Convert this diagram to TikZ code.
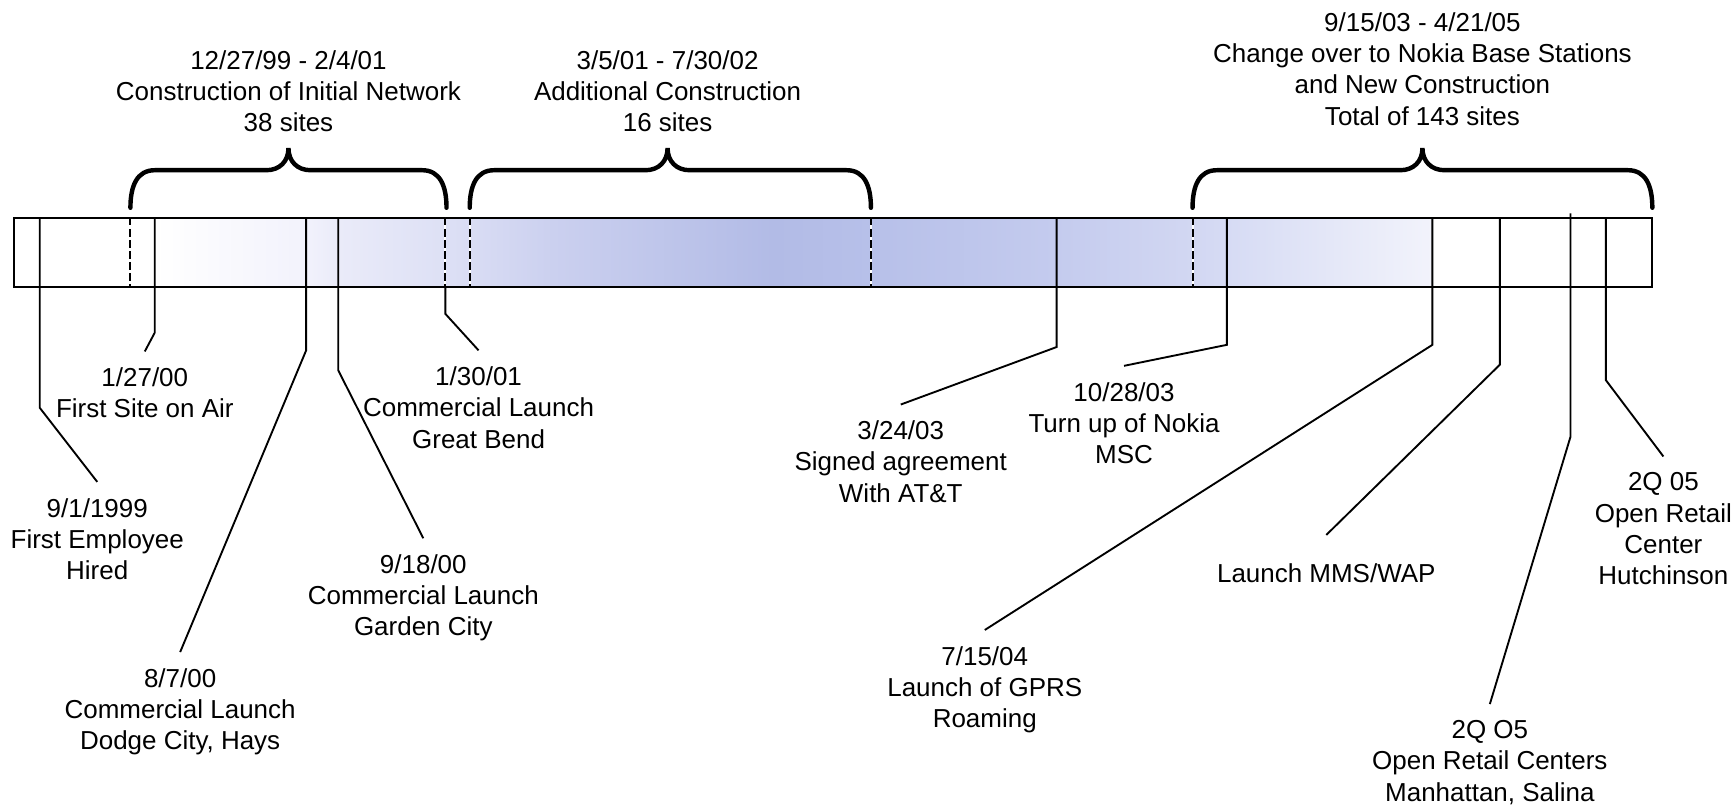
\documentclass[tikz,border=0pt]{standalone}
\usepackage{fontspec}
\setmainfont{Liberation Sans}
\definecolor{sh1}{RGB}{242,242,252}
\definecolor{sh2}{RGB}{234,235,249}
\definecolor{sh3}{RGB}{221,224,245}
\definecolor{sh4}{RGB}{203,208,239}
\definecolor{sh5}{RGB}{178,187,230}
\definecolor{sh6}{RGB}{183,192,233}
\definecolor{sh7}{RGB}{196,203,238}
\definecolor{sh8}{RGB}{210,215,242}
\definecolor{sh9}{RGB}{214,219,244}
\definecolor{sh10}{RGB}{242,243,251}
\begin{document}
\begin{tikzpicture}[x=1pt, y=-1pt, every node/.style={font=\fontsize{23.5}{28.3}\selectfont, align=center},
  lbl/.style={anchor=north, inner sep=14.6pt},
  head/.style={anchor=north, inner sep=0pt},
  lead/.style={line width=1.7pt},
  cutline/.style={line width=1.9pt, dash pattern=on 7pt off 3pt},
  brace/.style={line width=4pt, line cap=round}]
\useasboundingbox (0,0) rectangle (1568,731);
\foreach \xa/\xb/\ca/\cb in {140/277/white/sh1, 277/306/sh1/sh2, 306/404/sh2/sh3, 404/500/sh3/sh4,
  500/700/sh4/sh5, 700/788/sh5/sh6, 788/955/sh6/sh7, 955/1079/sh7/sh8, 1079/1110/sh8/sh9, 1110/1296/sh9/sh10}
  \fill[left color=\ca, right color=\cb] (\xa,197) rectangle (\xb,260);
\draw[line width=1.9pt] (13,197) rectangle (1495,260);
\foreach \x in {118,403,425,788,1079} {
  \draw[white, line width=1.9pt] (\x,197) -- (\x,260);
  \draw[cutline] (\x,197) -- (\x,260);
}
\foreach \a/\m/\b in {118/261/404, 425/604/788, 1079/1287/1495}
  \draw[brace] (\a,188) .. controls (\a,168) and (\a+6,154) .. (\a+22,154) -- (\m-20,154)
    .. controls (\m-8,154) and (\m,146) .. (\m,134) .. controls (\m,146) and (\m+8,154) .. (\m+20,154)
    -- (\b-22,154) .. controls (\b-6,154) and (\b,168) .. (\b,188);
\node[head] (initial) at (261,45.6) {12/27/99 - 2/4/01\\Construction of Initial Network\\38 sites};
\node[head] (extra) at (604,45.6) {3/5/01 - 7/30/02\\Additional Construction\\16 sites};
\node[head] (nokia) at (1287,11.2) {9/15/03 - 4/21/05\\Change over to Nokia Base Stations\\and New Construction\\Total of 143 sites};
\node[lbl] (hire) at (88,436) {9/1/1999\\First Employee\\Hired};
\node[lbl] (air) at (131,318) {1/27/00\\First Site on Air};
\node[lbl] (dodge) at (163,590) {8/7/00\\Commercial Launch\\Dodge City, Hays};
\node[lbl] (garden) at (383,487) {9/18/00\\Commercial Launch\\Garden City};
\node[lbl] (bend) at (433,317) {1/30/01\\Commercial Launch\\Great Bend};
\node[lbl] (att) at (815,366) {3/24/03\\Signed agreement\\With AT\&T};
\node[lbl] (msc) at (1017,331) {10/28/03\\Turn up of Nokia\\MSC};
\node[lbl] (gprs) at (891,570) {7/15/04\\Launch of GPRS\\Roaming};
\node[lbl, inner ysep=26pt] (mms) at (1200,484) {Launch MMS/WAP};
\node[lbl] (retail) at (1348,637) {2Q O5\\Open Retail Centers\\Manhattan, Salina};
\node[lbl] (hutch) at (1505,413) {2Q 05\\Open Retail\\Center\\Hutchinson};
\foreach \x/\y/\n in {36/369/hire, 140/301/air, 277/317/dodge, 306/335/garden, 956/314/att,
  1110/312/msc, 1296/312/gprs, 1357/330/mms, 1453/344/hutch}
  \draw[lead] (\x,197) -- (\x,\y) -- (\n.north);
\draw[lead] (403,260) -- (403,284) -- (bend.north);
\draw[lead] (1421,193) -- (1421,395) -- (retail.north);
\end{tikzpicture}
\end{document}
